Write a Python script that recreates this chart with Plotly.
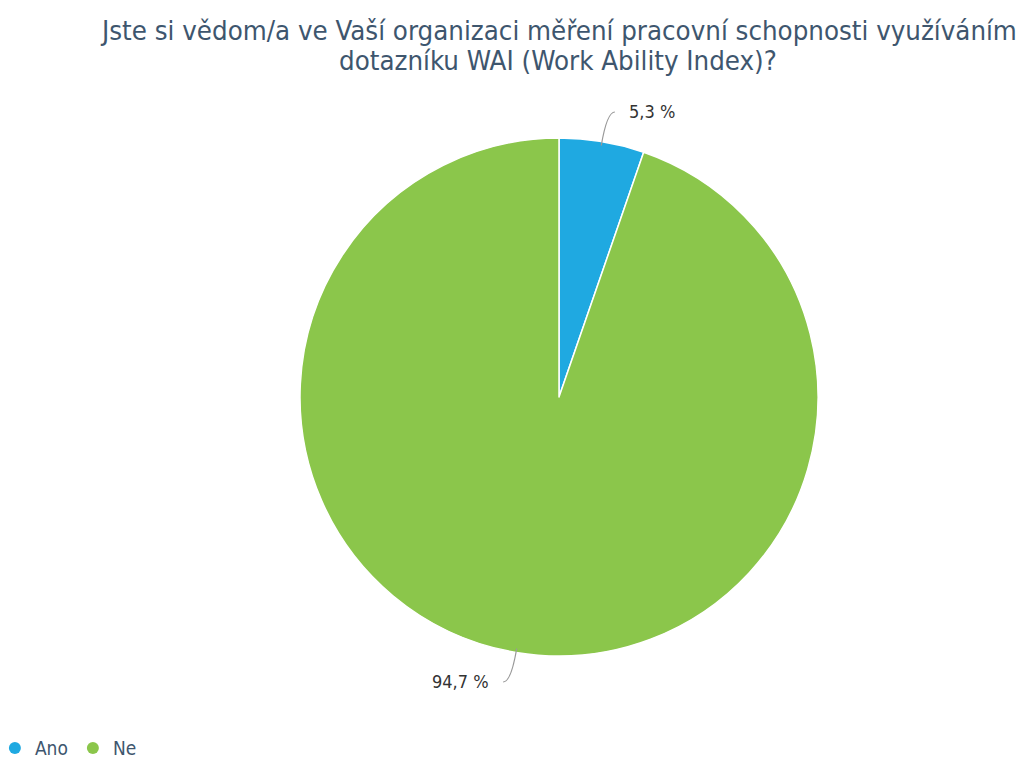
import math
import plotly.graph_objects as go

# Survey answers
categories = ["Ano", "Ne"]
values = [5.3, 94.7]
label_texts = ["5,3 %", "94,7 %"]
colors = ["#1fa9e1", "#8bc64b"]

title_lines = [
    "Jste si vědom/a ve Vaší organizaci měření pracovní schopnosti využíváním",
    "dotazníku WAI (Work Ability Index)?",
]

W, H = 1020, 758
cx, cy, R = 559, 397, 259  # pie centre and radius in pixels
FONT = "DejaVu Sans Condensed, DejaVu Sans"

fig = go.Figure()

fig.add_trace(go.Pie(
    labels=categories,
    values=values,
    marker=dict(colors=colors, line=dict(color="#ffffff", width=1.5)),
    sort=False,
    direction="clockwise",
    rotation=0,
    textinfo="none",
    hoverinfo="label+percent",
    showlegend=False,
    domain=dict(x=[(cx - R) / W, (cx + R) / W],
                y=[(H - cy - R) / H, (H - cy + R) / H]),
))

# Legend entries with round markers
for name, col in zip(categories, colors):
    fig.add_trace(go.Scatter(
        x=[None], y=[None], mode="markers", name=name,
        marker=dict(symbol="circle", size=15, color=col),
        hoverinfo="skip",
    ))

# Outside labels with curved leader lines, positioned from slice mid-angles
total = sum(values)
shapes, annotations = [], []
cum = 0.0
for v, txt in zip(values, label_texts):
    mid = (cum + v / 2) / total * 2 * math.pi
    cum += v
    sx, sy = math.sin(mid), -math.cos(mid)
    p0 = (cx + (R - 4) * sx, cy + (R - 4) * sy)
    p1 = (cx + (R + 30) * sx, cy + (R + 30) * sy)
    side = 1 if sx >= 0 else -1
    p2 = (p1[0] + 8 * side, p1[1])
    shapes.append(dict(
        type="path", xref="x", yref="y",
        path=f"M {p0[0]:.1f},{p0[1]:.1f} Q {p1[0]:.1f},{p1[1]:.1f} {p2[0]:.1f},{p2[1]:.1f}",
        line=dict(color="#999999", width=1.2),
    ))
    annotations.append(dict(
        x=p2[0] + 12 * side, y=p2[1] - 1, xref="x", yref="y",
        text=txt, showarrow=False,
        xanchor="left" if side > 0 else "right", yanchor="middle",
        font=dict(family=FONT, size=18, color="#333333"),
    ))

for i, line in enumerate(title_lines):
    annotations.append(dict(
        x=558, y=30 + 30 * i, xref="x", yref="y", text=line, showarrow=False,
        xanchor="center", yanchor="middle",
        font=dict(family=FONT, size=27.4, color="#3e566e"),
    ))

fig.update_layout(
    width=W, height=H,
    margin=dict(l=0, r=0, t=0, b=0, autoexpand=False),
    paper_bgcolor="#ffffff",
    plot_bgcolor="rgba(0,0,0,0)",
    xaxis=dict(range=[0, W], visible=False, fixedrange=True),
    yaxis=dict(range=[H, 0], visible=False, fixedrange=True),
    shapes=shapes,
    annotations=annotations,
    showlegend=True,
    legend=dict(
        orientation="h", x=-0.005, y=-0.012, xanchor="left", yanchor="bottom",
        font=dict(family=FONT, size=19, color="#3e566e"),
        itemsizing="constant",
    ),
)

fig.write_html("out.html")
